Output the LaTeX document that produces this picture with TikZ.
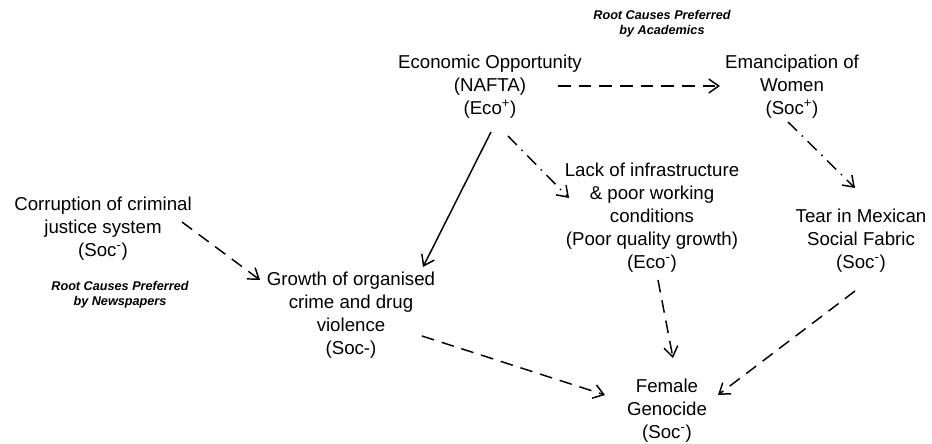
\documentclass[tikz,border=0pt]{standalone}
\usepackage{fontspec}
\setmainfont{Liberation Sans}
\usetikzlibrary{arrows.meta,calc}
\tikzset{
  txt/.style={align=center,inner sep=0pt,font=\fontsize{14}{17.2}\selectfont},
  lbl/.style={align=center,inner sep=0pt,font=\fontsize{9.5}{11.3}\selectfont\bfseries\itshape},
  conn/.style={line width=1.1pt,-{Straight Barb[length=7.5pt,width=10.5pt,line width=1.1pt]}},
  dsh/.style={conn,dash pattern=on 9.5pt off 6pt},
  dshdot/.style={conn,dash pattern=on 9.5pt off 5pt on 1.1pt off 5pt},
}
\begin{document}
\begin{tikzpicture}[x=0.75pt,y=-0.75pt]
\useasboundingbox (0,0) rectangle (932,443);
\node[txt] (eco) at (490,87) {Economic Opportunity\\(NAFTA)\\(Eco\textsuperscript{+})};
\node[lbl] (acad) at (662,24) {Root Causes Preferred\\by Academics};
\node[txt] (emanc) at (792,87) {Emancipation of\\Women\\(Soc\textsuperscript{+})};
\node[txt] (lack) at (652,218) {Lack of infrastructure\\\& poor working\\conditions\\(Poor quality growth)\\(Eco\textsuperscript{-})};
\node[txt] (tear) at (861,241) {Tear in Mexican\\Social Fabric\\(Soc\textsuperscript{-})};
\node[txt] (corr) at (103,229) {Corruption of criminal\\justice system\\(Soc\textsuperscript{-})};
\node[lbl] (news) at (120,295) {Root Causes Preferred\\by Newspapers};
\node[txt] (growth) at (351,315) {Growth of organised\\crime and drug\\violence\\(Soc-)};
\node[txt] (female) at (667,411) {Female\\Genocide\\(Soc\textsuperscript{-})};

\draw[dsh] ($(eco)+(68,-1)$) -- ($(emanc)+(-72,-1)$);
\draw[conn] ($(eco)+(1,45)$) -- ($(growth)+(72,-48)$);
\draw[dshdot] ($(eco)+(18,49)$) -- ($(lack)+(-83,-20)$);
\draw[dsh] ($(corr)+(79,-7)$) -- ($(growth)+(-91,-35)$);
\draw[dshdot] ($(emanc)+(-4,35)$) -- ($(tear)+(-6,-53)$);
\draw[dsh] ($(lack)+(6,62)$) -- ($(female)+(6,-53)$);
\draw[dsh] ($(growth)+(71,21)$) -- ($(female)+(-62,-16)$);
\draw[dsh] ($(tear)+(-6,50)$) -- ($(female)+(51,-16)$);
\end{tikzpicture}
\end{document}
